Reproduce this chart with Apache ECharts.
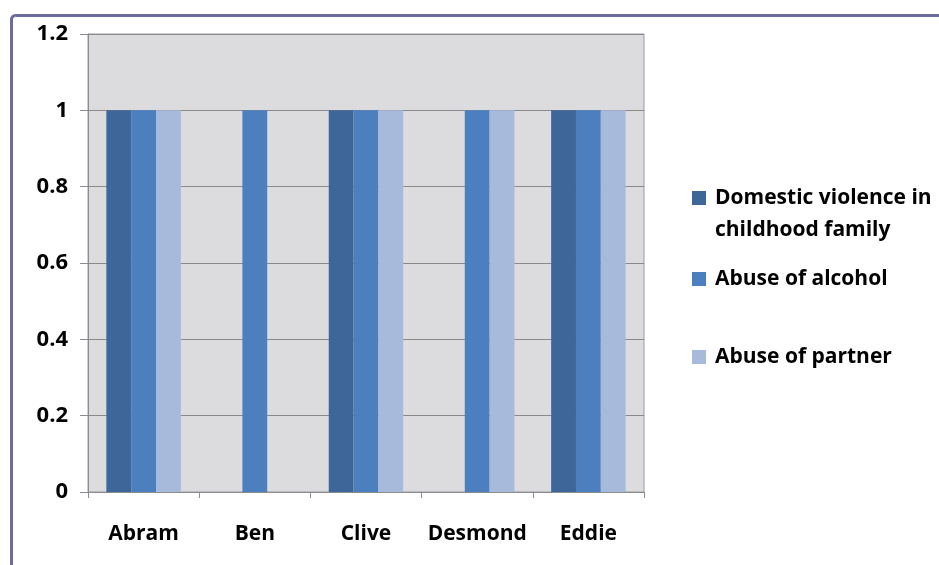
<!DOCTYPE html>
<html>
<head>
<meta charset="utf-8">
<script src="https://cdn.jsdelivr.net/npm/echarts@6/dist/echarts.min.js"></script>
<style>
  html, body { margin: 0; padding: 0; background: #ffffff; }
  #chart { width: 939px; height: 565px; }
</style>
</head>
<body>
<div id="chart"></div>
<script>
// Risk factors per person
const people = ['Abram', 'Ben', 'Clive', 'Desmond', 'Eddie'];
const domesticViolence = [1, 0, 1, 0, 1];
const alcoholAbuse = [1, 1, 1, 1, 1];
const partnerAbuse = [1, 0, 1, 1, 1];
const seriesNames = ['Domestic violence in\nchildhood family', 'Abuse of alcohol', 'Abuse of partner'];
const yTickLabels = ['0', '0.2', '0.4', '0.6', '0.8', '1', '1.2'];

const font = '"Open Sans", "DejaVu Sans", sans-serif';
const colors = ['#3e6699', '#4b7fbd', '#a8badb'];

const chart = echarts.init(document.getElementById('chart'), null, { renderer: 'canvas' });

// Square marker; the tall variant keeps the square beside the first of two text lines
const squareIcon = 'rect';
const tallSquareIcon = 'path://M0,0M0,9L14,9L14,23L0,23ZM0,64';

function legendFor(name, top, icon, itemHeight) {
  return {
    data: [name],
    left: 692,
    top: top,
    orient: 'vertical',
    itemWidth: 14,
    itemHeight: itemHeight,
    icon: icon,
    selectedMode: false,
    padding: 0,
    textStyle: {
      fontFamily: font,
      fontWeight: 'bold',
      fontSize: 21,
      color: '#000',
      lineHeight: 32,
      padding: [0, 0, 0, 4]
    }
  };
}

const option = {
  animation: false,
  color: colors,
  graphic: [{
    type: 'rect',
    silent: true,
    z: -10,
    shape: { x: 11.5, y: 15.5, width: 1000, height: 1000, r: 4 },
    style: { fill: 'none', stroke: '#6b6b9e', lineWidth: 3 }
  }],
  grid: {
    left: 88, right: 295, top: 34, bottom: 73,
    show: true,
    backgroundColor: '#dcdcde',
    borderColor: '#9a9aa8',
    borderWidth: 1
  },
  legend: [
    legendFor(seriesNames[0], 182, tallSquareIcon, 64),
    legendFor(seriesNames[1], 263, squareIcon, 14),
    legendFor(seriesNames[2], 341, squareIcon, 14)
  ],
  xAxis: {
    type: 'category',
    data: people,
    axisLine: { lineStyle: { color: '#8c8c8c', width: 1 } },
    axisTick: { show: true, interval: 0, length: 6, lineStyle: { color: '#8c8c8c' } },
    axisLabel: {
      interval: 0,
      margin: 32,
      fontFamily: font,
      fontWeight: 'bold',
      fontSize: 21,
      color: '#000'
    }
  },
  yAxis: {
    type: 'value',
    min: 0,
    max: 1.2,
    interval: 0.2,
    axisLine: { show: true, lineStyle: { color: '#8c8c8c', width: 1 } },
    axisTick: { show: true, length: 8, lineStyle: { color: '#8c8c8c' } },
    splitLine: { show: true, lineStyle: { color: '#8a8a8a', width: 1 } },
    axisLabel: {
      margin: 20,
      fontFamily: font,
      fontWeight: 'bold',
      fontSize: 22,
      color: '#000',
      formatter: (v, i) => yTickLabels[i]
    }
  },
  series: [
    { name: seriesNames[0], type: 'bar', data: domesticViolence, barGap: '0%', barCategoryGap: '33%' },
    { name: seriesNames[1], type: 'bar', data: alcoholAbuse, barGap: '0%', barCategoryGap: '33%' },
    { name: seriesNames[2], type: 'bar', data: partnerAbuse, barGap: '0%', barCategoryGap: '33%' }
  ]
};

chart.setOption(option);
</script>
</body>
</html>
